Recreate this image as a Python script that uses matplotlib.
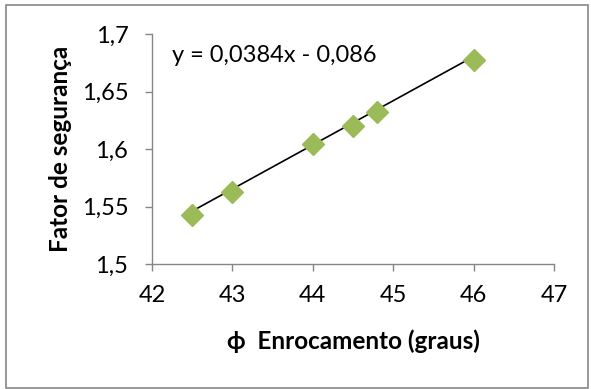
import matplotlib
matplotlib.use("Agg")
import matplotlib.pyplot as plt
import numpy as np
from matplotlib.patches import Rectangle

# data
phi = [42.5, 43.0, 44.0, 44.5, 44.8, 46.0]
fs = [1.543, 1.563, 1.604, 1.620, 1.632, 1.677]
slope, intercept = 0.0384, -0.086
xticks = [42, 43, 44, 45, 46, 47]
yticks = [1.5, 1.55, 1.6, 1.65, 1.7]
ytick_labels = ["1,5", "1,55", "1,6", "1,65", "1,7"]

plt.rcParams['font.family'] = ['Lato', 'DejaVu Sans']
gray = "#868686"

fig = plt.figure(figsize=(5.91, 3.89), dpi=100)
ax = fig.add_axes([152 / 591, 1 - 264 / 389, (554 - 152) / 591, (264 - 34) / 389])

# chart border
fig.patches.append(Rectangle((6 / 591, 1.5 / 389), 582 / 591, 383 / 389,
                             transform=fig.transFigure, fill=False,
                             edgecolor=gray, linewidth=1.2))

xl = np.array([min(phi), max(phi)])
ax.plot(xl, slope * xl + intercept, color="black", linewidth=1.2, zorder=2)
ax.plot(phi, fs, linestyle="none", marker="D", markersize=11,
        color="#9BBB59", markeredgecolor="#9BBB59", zorder=3)

ax.set_xlim(42, 47)
ax.set_ylim(1.5, 1.7)
ax.set_xticks(xticks)
ax.set_xticklabels([str(v) for v in xticks])
ax.set_yticks(yticks)
ax.set_yticklabels(ytick_labels)
for s in ["top", "right"]:
    ax.spines[s].set_visible(False)
for s in ["left", "bottom"]:
    ax.spines[s].set_color(gray)
    ax.spines[s].set_linewidth(1.0)
ax.tick_params(direction="out", length=5, width=1.0, color=gray, labelsize=17)
ax.tick_params(axis="x", pad=10)
ax.tick_params(axis="y", pad=12)

ax.text(42.25, 1.681, "y = 0,0384x - 0,086", fontsize=17, ha="left", va="center")

ax.set_xlabel("\u03d5  Enrocamento (graus)", fontsize=17.5, fontweight="bold", labelpad=17)
ax.set_ylabel("Fator de segurança", fontsize=17.5, fontweight="bold")
ax.yaxis.set_label_coords(-0.2, 0.5)

fig.savefig("out.png", dpi=100)
